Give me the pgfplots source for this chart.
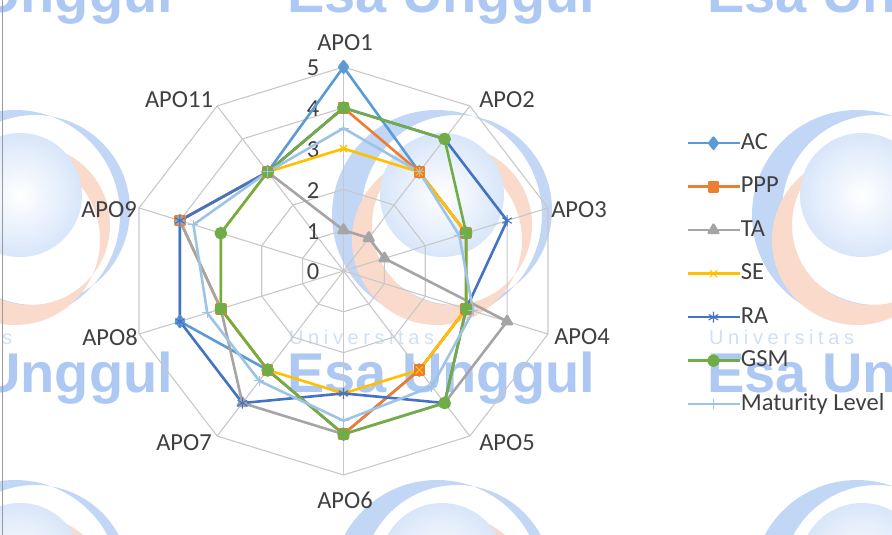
\documentclass[border=0pt]{standalone}
\usepackage{pgfplots}
\pgfplotsset{compat=1.18}
\usepackage{pgfplotstable}
\usepackage{fontspec}
\setmainfont{Carlito}
\newfontfamily\wmbold{Liberation Sans}[BoldFont={* Bold}]
\newfontfamily\wmthin{Liberation Sans}[LetterSpace=23]

\definecolor{cAC}{HTML}{5B9BD5}
\definecolor{cPPP}{HTML}{ED7D31}
\definecolor{cTA}{HTML}{A5A5A5}
\definecolor{cSE}{HTML}{FFC000}
\definecolor{cRA}{HTML}{4472C4}
\definecolor{cGSM}{HTML}{70AD47}
\definecolor{cML}{HTML}{9DC3E6}
\definecolor{gridc}{HTML}{C8C8C8}
\definecolor{txt}{HTML}{404040}
\definecolor{wmblue}{HTML}{C2D6F6}
\definecolor{wmsphere}{HTML}{D8E6FA}
\definecolor{wmsalmon}{HTML}{FADACB}
\definecolor{wmtext}{HTML}{ADC8F2}
\definecolor{wmtextl}{HTML}{CFDFF7}

% angle (deg) and values of the six roles plus the maturity level
\pgfplotstableread{
ang AC PPP TA SE RA GSM ML
90   5 4 1 3 4 4 3.5
54   3 3 1 3 4 4 3.0
18   3 3 1 3 4 3 2.83
-18  3 3 4 3 3 3 3.17
-54  3 3 4 3 4 4 3.5
-90  4 4 4 3 3 4 3.67
-126 3 3 4 3 4 3 3.33
-162 4 3 3 3 4 3 3.33
162  4 4 4 3 4 3 3.67
126  3 3 3 3 3 3 3.0
90   5 4 1 3 4 4 3.5
}\radardata

\def\cx{343.5}
\def\cy{-271}
\def\ux{43}
\def\uy{40.8}

\newcommand{\logo}[2]{%
  \fill[wmblue, even odd rule] (axis cs:{#1},{-(#2)-15}) circle[radius=105]
       (axis cs:{#1+20},{-(#2)-10}) circle[radius=95];
  \fill[wmsalmon, even odd rule] (axis cs:{#1},{-(#2)-40}) circle[radius=85]
       (axis cs:{#1+15},{-(#2)-25}) circle[radius=80];
  \shade[inner color=white, outer color=wmsphere] (axis cs:{#1+5},{-(#2)+5}) circle[radius=62];
  \node[anchor=base west, inner sep=0pt, text=wmtextl, font=\wmthin\fontsize{20}{22}\selectfont]
       at (axis cs:{#1-148},{-(#2)-145}) {Universitas};
  \node[anchor=base west, inner sep=0pt, text=wmtext, font=\wmbold\bfseries\fontsize{56}{60}\selectfont]
       at (axis cs:{#1-150},{-(#2)-193}) {Esa Unggul};
}

\newcommand{\seriesplot}[2]{%
  \addplot[#2] table[x expr={\cx+\ux*\thisrow{#1}*cos(\thisrow{ang})},
                     y expr={\cy+\uy*\thisrow{#1}*sin(\thisrow{ang})}] {\radardata};
}

\begin{document}
\begin{tikzpicture}[x=1pt,y=1pt]
\useasboundingbox (0,0) rectangle (892,535);
\clip (0,0) rectangle (892,535);
\begin{axis}[
  at={(0,0)}, anchor=south west, scale only axis,
  width=892pt, height=535pt,
  xmin=0, xmax=892, ymin=-535, ymax=0,
  hide axis, clip=false,
  legend style={at={(axis cs:686,-131)}, anchor=north west, draw=none, fill=none,
    inner sep=0pt, row sep=19.5pt,
    font=\fontsize{24.5}{28}\selectfont, text=txt,
    nodes={inner sep=0pt, text height=18pt, text depth=6pt}},
  legend cell align=left,
  legend image code/.code={\draw[mark repeat=2,mark phase=2,#1] plot coordinates {(0pt,0pt) (26pt,0pt) (52pt,0pt)};},
  /tikz/every even column/.append style={column sep=3pt},
]
% watermark
\pgfplotsinvokeforeach{15,437,857}{
  \logo{#1}{200}
  \logo{#1}{-180}
  \logo{#1}{570}
}
\draw[gray!80, line width=1.4pt] (axis cs:2.5,0) -- (axis cs:2.5,-535);

% grid rings
\pgfplotsinvokeforeach{1,2,3,4,5}{
  \addplot[gridc, line width=1.1pt, forget plot] table[x expr={\cx+\ux*#1*cos(\thisrow{ang})},
       y expr={\cy+\uy*#1*sin(\thisrow{ang})}] {\radardata};
}
% spokes
\pgfplotsinvokeforeach{90,54,18,-18,-54,-90,-126,-162,162,126}{
  \draw[gridc, line width=1.1pt] (axis cs:\cx,\cy) -- (axis cs:{\cx+5*\ux*cos(#1)},{\cy+5*\uy*sin(#1)});
}
% radial tick labels
\pgfplotsinvokeforeach{0,1,2,3,4,5}{
  \node[text=txt, font=\fontsize{24.5}{28}\selectfont, inner sep=0pt] at (axis cs:313,{\cy+\uy*#1-1}) {#1};
}
% category labels
\begin{scope}[every node/.style={text=txt, font=\fontsize{24.5}{28}\selectfont, inner sep=0pt}]
\node at (axis cs:345,-43) {APO1};
\node at (axis cs:507,-100) {APO2};
\node at (axis cs:579,-210) {APO3};
\node at (axis cs:582,-337) {APO4};
\node at (axis cs:507,-443) {APO5};
\node at (axis cs:345,-500) {APO6};
\node at (axis cs:184,-443) {APO7};
\node at (axis cs:110,-337) {APO8};
\node at (axis cs:109,-210) {APO9};
\node at (axis cs:179,-100) {APO11};
\end{scope}

\seriesplot{AC}{cAC, line width=2.6pt, line join=round, mark=diamond*, mark size=5.5pt, mark options={solid}}
\addlegendentry{AC}
\seriesplot{PPP}{cPPP, line width=2.6pt, line join=round, mark=square*, mark size=4.5pt, mark options={solid}}
\addlegendentry{PPP}
\seriesplot{TA}{cTA, line width=2.6pt, line join=round, mark=triangle*, mark size=5.5pt, mark options={solid}}
\addlegendentry{TA}
\seriesplot{SE}{cSE, line width=2.6pt, line join=round, mark=x, mark size=5pt, mark options={solid, line width=1pt}}
\addlegendentry{SE}
\seriesplot{RA}{cRA, line width=2.6pt, line join=round, mark=asterisk, mark size=5.5pt, mark options={solid, line width=1.1pt}}
\addlegendentry{RA}
\seriesplot{GSM}{cGSM, line width=2.6pt, line join=round, mark=*, mark size=5pt, mark options={solid}}
\addlegendentry{GSM}
\seriesplot{ML}{cML, line width=2.6pt, line join=round, mark=+, mark size=5pt, mark options={solid, line width=1pt}}
\addlegendentry{Maturity Level}
\end{axis}
\end{tikzpicture}
\end{document}
